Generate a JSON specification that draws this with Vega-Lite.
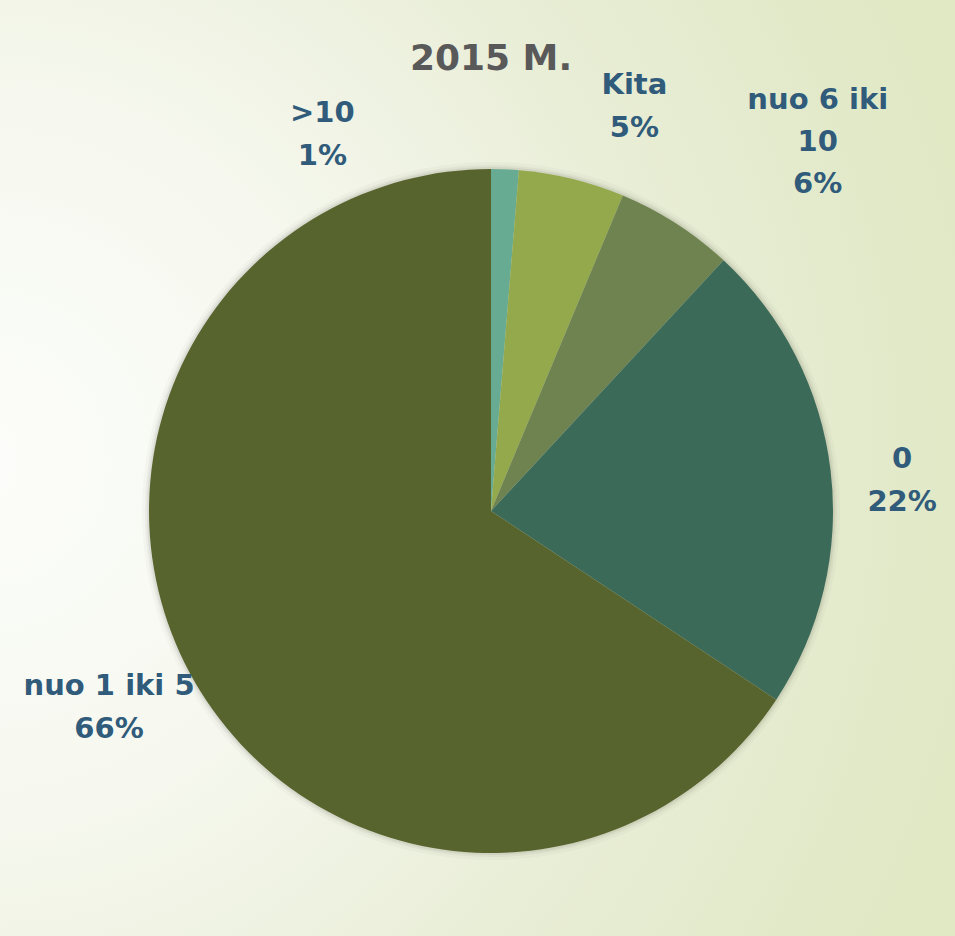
{
  "$schema": "https://vega.github.io/schema/vega-lite/v6.json",
  "width": 982,
  "height": 1022,
  "autosize": {"type": "none"},
  "padding": {"left": 0, "top": 0, "right": -27, "bottom": -86},
  "background": "#f4f6ec",
  "config": {"view": {"stroke": null}},
  "title": {
    "text": "2015 M.",
    "font": "DejaVu Sans",
    "fontSize": 36,
    "fontWeight": "bold",
    "color": "#595959",
    "anchor": "middle",
    "frame": "group",
    "offset": -78
  },
  "data": {
    "values": [
      {"category": ">10", "pct": 1.3, "idx": 1, "label": ">10\n1%"},
      {"category": "Kita", "pct": 5.0, "idx": 2, "label": "Kita\n5%"},
      {"category": "nuo 6 iki 10", "pct": 5.6, "idx": 3, "label": "nuo 6 iki\n10\n6%"},
      {"category": "0", "pct": 22.4, "idx": 4, "label": "0\n22%"},
      {"category": "nuo 1 iki 5", "pct": 65.7, "idx": 5, "label": "nuo 1 iki 5\n66%"}
    ]
  },
  "layer": [
    {
      "data": {"values": [{}]},
      "mark": {
        "type": "rect",
        "fill": {
          "gradient": "radial",
          "x1": 0, "y1": 0.45, "r1": 0,
          "x2": 0, "y2": 0.45, "r2": 1,
          "stops": [
            {"offset": 0, "color": "#fcfdfa"},
            {"offset": 0.35, "color": "#f6f8ef"},
            {"offset": 0.7, "color": "#e8edd5"},
            {"offset": 1, "color": "#e0e8c4"}
          ]
        }
      },
      "encoding": {}
    },
    {
      "data": {"values": [{}]},
      "mark": {"type": "arc", "radius": 349, "fill": "#404030", "opacity": 0.03},
      "encoding": {}
    },
    {
      "data": {"values": [{}]},
      "mark": {"type": "arc", "radius": 346, "fill": "#404030", "opacity": 0.05},
      "encoding": {}
    },
    {
      "data": {"values": [{}]},
      "mark": {"type": "arc", "radius": 344, "fill": "#404030", "opacity": 0.08},
      "encoding": {}
    },
    {
      "mark": {"type": "arc", "radius": 342},
      "encoding": {
        "theta": {"field": "pct", "type": "quantitative", "stack": true},
        "order": {"field": "idx", "type": "quantitative"},
        "color": {
          "field": "category",
          "type": "nominal",
          "sort": null,
          "scale": {
            "domain": [">10", "Kita", "nuo 6 iki 10", "0", "nuo 1 iki 5"],
            "range": ["#67ab92", "#93a94c", "#6f8351", "#3b6b58", "#58642e"]
          },
          "legend": null
        }
      }
    },
    {
      "mark": {"type": "text", "radius": 400, "dx": -185, "dy": 2, "font": "DejaVu Sans", "fontWeight": "bold", "fontSize": 29, "color": "#305b7a", "align": "center", "baseline": "middle", "lineBreak": "\n", "lineHeight": 43},
      "encoding": {
        "theta": {"field": "pct", "type": "quantitative", "stack": true},
        "order": {"field": "idx", "type": "quantitative"},
        "text": {"condition": {"test": "datum.category === '>10'", "field": "label"}, "value": ""}
      }
    },
    {
      "mark": {"type": "text", "radius": 420, "dx": 44, "dy": -18, "font": "DejaVu Sans", "fontWeight": "bold", "fontSize": 29, "color": "#305b7a", "align": "center", "baseline": "middle", "lineBreak": "\n", "lineHeight": 43},
      "encoding": {
        "theta": {"field": "pct", "type": "quantitative", "stack": true},
        "order": {"field": "idx", "type": "quantitative"},
        "text": {"condition": {"test": "datum.category === 'Kita'", "field": "label"}, "value": ""}
      }
    },
    {
      "mark": {"type": "text", "radius": 480, "dx": 67, "dy": -7, "font": "DejaVu Sans", "fontWeight": "bold", "fontSize": 29, "color": "#305b7a", "align": "center", "baseline": "middle", "lineBreak": "\n", "lineHeight": 42},
      "encoding": {
        "theta": {"field": "pct", "type": "quantitative", "stack": true},
        "order": {"field": "idx", "type": "quantitative"},
        "text": {"condition": {"test": "datum.category === 'nuo 6 iki 10'", "field": "label"}, "value": ""}
      }
    },
    {
      "mark": {"type": "text", "radius": 410, "dx": 4, "dy": -3, "font": "DejaVu Sans", "fontWeight": "bold", "fontSize": 29, "color": "#305b7a", "align": "center", "baseline": "middle", "lineBreak": "\n", "lineHeight": 43},
      "encoding": {
        "theta": {"field": "pct", "type": "quantitative", "stack": true},
        "order": {"field": "idx", "type": "quantitative"},
        "text": {"condition": {"test": "datum.category === '0'", "field": "label"}, "value": ""}
      }
    },
    {
      "mark": {"type": "text", "radius": 420, "dx": -12, "dy": -24, "font": "DejaVu Sans", "fontWeight": "bold", "fontSize": 29, "color": "#305b7a", "align": "center", "baseline": "middle", "lineBreak": "\n", "lineHeight": 43},
      "encoding": {
        "theta": {"field": "pct", "type": "quantitative", "stack": true},
        "order": {"field": "idx", "type": "quantitative"},
        "text": {"condition": {"test": "datum.category === 'nuo 1 iki 5'", "field": "label"}, "value": ""}
      }
    }
  ]
}
